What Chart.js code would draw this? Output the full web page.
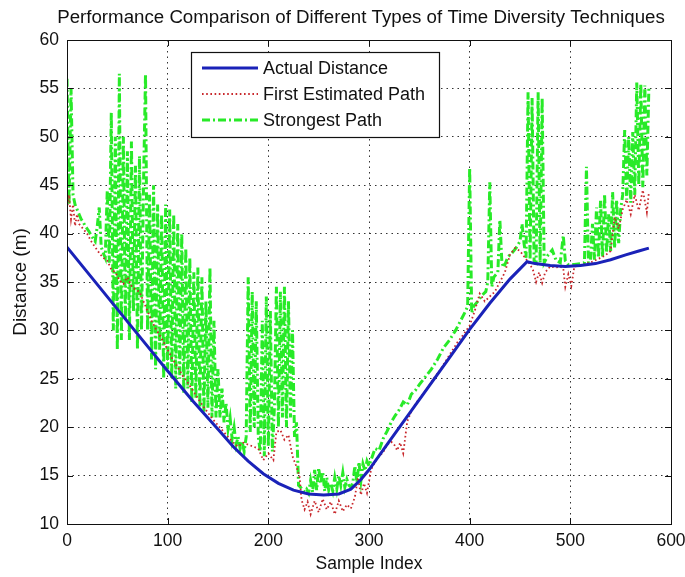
<!DOCTYPE html>
<html>
<head>
<meta charset="utf-8">
<title>Time Diversity Techniques</title>
<script src="https://cdn.jsdelivr.net/npm/chart.js@4/dist/chart.umd.min.js"></script>
<style>
  html, body { margin: 0; padding: 0; background: #fff; }
  canvas { display: block; }
</style>
</head>
<body>
<canvas id="chart" width="685" height="577"></canvas>
<script>
// sample index / distance (m) pairs for each trace
const actualDistance = [
  [0,38.6],[25,35.4],[50,32.2],[75,29.0],[100,25.8],[125,22.7],[150,19.8],[165,18.0],[180,16.5],
  [195,15.2],[210,14.2],[225,13.5],[240,13.1],[255,13.0],[270,13.1],[282,13.6],[292,14.6],[300,15.6],
  [320,18.5],[340,21.4],[360,24.3],[380,27.2],[400,30.1],[420,32.8],[440,35.3],[457,37.1],[465,36.9],
  [480,36.7],[495,36.6],[510,36.7],[525,36.9],[540,37.3],[555,37.8],[568,38.2],[578,38.5]
];

const firstPath = [
  [0,42.5],[2,44],[4,41.5],[6,43],[8,40.8],[10,42],[12,41],[16,40.5],[20,40],[24,39.2],[28,38.6],
  [32,38],[36,37.5],[40,37.2],[44,36.3],[48,36],[52,35.2],[56,34.8],[60,35.5],[64,34.6],[68,34.2],
  [72,34],[76,33],[80,32],[84,31],[88,30.2],[92,29.5],[96,28.8],[100,28],[105,27],[110,26.2],
  [115,25.3],[120,24.6],[125,23.8],[130,23],[135,22.2],[140,21.5],[145,20.8],[150,20.2],[155,19.6],
  [160,19],[165,18.4],[170,18],[175,18.4],[180,18.2],[185,18],[190,17.8],[195,16.6],[200,17.3],
  [205,16.6],[208,19.5],[212,19.7],[216,18.7],[220,19.2],[224,17],[228,15.9],[231,14.9],[233,12.5],
  [236,11.5],[239,12.3],[242,11],[246,12.4],[250,11.2],[254,12.6],[258,11.5],[262,12.3],[266,11],
  [270,12.4],[274,11.3],[278,12],[282,11.6],[286,12.8],[289,14.8],[292,13],[295,14.2],[298,13.2],
  [302,15.6],[306,16.4],[310,17],[314,17.4],[318,18.2],[322,18.5],[325,18.2],[328,17.6],[331,18.4],
  [334,17.3],[338,20.6],[342,21.6],[346,22.4],[352,23.2],[358,24],[364,25],[370,25.8],[376,26.8],
  [382,27.8],[388,28.8],[394,29.6],[400,30.5],[405,32],[410,33.8],[415,33],[420,33.5],[425,34],
  [430,35],[435,36],[440,37.8],[445,38.5],[450,38.2],[455,37.5],[460,36.8],[463,36.2],[466,35],
  [469,36],[472,34.9],[475,36],[480,36.6],[486,36.5],[490,36.6],[493,36.4],[495,34.5],[498,35.8],
  [501,34.6],[504,36.6],[510,36.7],[516,36.9],[522,37.1],[528,37.4],[534,37.7],[540,38.2],[544,41.7],
  [548,40.5],[552,42.5],[556,43.5],[560,42],[564,44],[568,42.4],[572,44.5],[576,42.2],[578,44.2]
];

const strongestPath = [
  [0,56],[2,43],[4,55],[6,44],[8,43],[10,42.5],[12,42],[14,41.5],[16,41.2],[18,40.8],[20,40.5],
  [22,40.2],[24,39.8],[26,39.5],[28,39.2],[30,40.7],[32,42.7],[34,38.6],[36,38],[38,37.5],
  [40,44.5],[42,37],[44,52.5],[46,30],[48,50],[50,28],[52,56.5],[54,29],[56,50],[58,31],[60,48.5],
  [62,29],[64,49.5],[66,32],[68,47],[70,28],[72,48],[74,30],[76,45],[78,56.5],[80,30],
  [82,44],[84,27],[86,45],[88,26],[90,43],[92,28],[94,42],[96,25],[98,43],[100,26],
  [102,42.5],[104,25],[106,42],[108,24],[110,41],[112,25],[114,40],[116,23.5],[118,38.5],[120,24],
  [122,37.5],[124,22.5],[126,36],[128,23],[130,36.5],[132,22],[134,35.5],[136,21.5],[138,33],[140,22],
  [142,36.5],[144,21],[146,31],[148,21],[150,26],[152,21],[154,24],[156,20.5],[158,22.5],[160,19.8],
  [162,21],[164,18.8],[166,20],[168,18.2],[170,19],[172,17.8],[174,18.5],[176,17.5],
  [178,19],[180,35.5],[182,19.5],[184,34],[186,20],[188,33],[190,19],[192,17.5],[194,31],[196,17],
  [198,33.5],[200,18],[202,32],[204,17.5],[206,22],[208,34.5],[210,20],[212,34],[214,21],[216,34.5],
  [218,20],[220,33],[222,21],[224,30],[226,19],[228,20.5],[230,14],[232,13.8],
  [234,13.5],[236,13.3],[238,13.6],[240,13.2],[242,14.5],[244,13.3],[246,15.6],[248,13.5],[250,15.8],
  [252,14.2],[254,15.4],[256,13.4],[258,14.8],[260,13.5],[262,14.2],[264,13.4],[266,14.8],[268,13.6],
  [270,15],[272,14],[274,15.3],[276,13.8],[278,14.6],[280,14],[282,13.8],[284,14.3],[286,16],
  [288,14.3],[290,16.4],[292,14.5],[294,16.2],[296,15.5],[298,16.5],[300,16],
  [302,16.6],[306,17.8],[310,17.6],[314,18.8],[318,19.6],[322,20.5],[326,21.2],[330,21.8],[334,22.6],
  [338,22.3],[342,23.4],[346,23.8],[350,24.4],[356,25.2],[362,26],[368,27],[374,28.2],[380,29],
  [386,30],[392,31.2],[396,32],
  [398,32.5],[400,46.8],[402,31.8],[404,32.5],[408,33],[412,33.6],[416,34],[418,35],[420,45.3],
  [422,34.5],[424,35.5],[428,36],[430,41.4],[432,37],[434,36.5],[438,37.6],[442,38],[446,38.5],
  [450,39.2],[452,41],[454,39],[456,37.5],[458,54.6],[460,37.3],[462,54],[464,37.2],[466,37],
  [468,54.6],[470,37],[472,54],[474,37],[478,37.8],[482,38.3],[486,37.2],[490,37],[493,39.8],
  [495,37.2],[498,36.8],[504,36.8],[510,36.9],[514,37],[516,46.9],[518,37],[520,37.2],[522,41],
  [524,37.3],[526,42.7],[528,37.5],[530,43.4],[532,37.6],[534,44.1],[536,38],[538,42],[540,38.2],
  [542,44.3],[544,38.5],[546,43.5],[548,39],[550,42.5],[552,44],[554,50.7],[556,43.5],[558,50],
  [560,43.2],[562,50.5],[564,44],[566,55.6],[568,45],[570,55.5],[572,44.8],[574,55.3],[576,46],[578,55]
];

const xTicks = [0, 100, 200, 300, 400, 500, 600];
const yTicks = [10, 15, 20, 25, 30, 35, 40, 45, 50, 55, 60];
const chartTitle = "Performance Comparison of Different Types of Time Diversity Techniques";

const FONT = "'Liberation Sans', Arial, Helvetica, sans-serif";
const toXY = (arr) => arr.map(([x, y]) => ({ x, y }));

// title over the axes, box round them, inward tick marks on all four sides, and the legend
const axesBox = {
  id: "axesBox",
  afterDraw(chart) {
    const { ctx, chartArea: a, scales } = chart;
    ctx.save();
    ctx.fillStyle = "#111";
    ctx.font = "18.7px " + FONT;
    ctx.textAlign = "center";
    ctx.textBaseline = "middle";
    ctx.fillText(chartTitle, (a.left + a.right) / 2 - 8, 18);
    ctx.textAlign = "left";

    ctx.strokeStyle = "#111";
    ctx.lineWidth = 1;
    ctx.setLineDash([]);
    ctx.strokeRect(a.left + 0.5, a.top + 0.5, a.right - a.left, a.bottom - a.top);
    const tl = 6;
    ctx.beginPath();
    xTicks.forEach((v) => {
      const px = Math.round(scales.x.getPixelForValue(v)) + 0.5;
      ctx.moveTo(px, a.bottom); ctx.lineTo(px, a.bottom - tl);
      ctx.moveTo(px, a.top); ctx.lineTo(px, a.top + tl);
    });
    yTicks.forEach((v) => {
      const py = Math.round(scales.y.getPixelForValue(v)) + 0.5;
      ctx.moveTo(a.left, py); ctx.lineTo(a.left + tl, py);
      ctx.moveTo(a.right, py); ctx.lineTo(a.right - tl, py);
    });
    ctx.stroke();

    // legend
    const bx = a.left + 124, by = a.top + 12, bw = 248, bh = 85;
    ctx.fillStyle = "#fff";
    ctx.fillRect(bx, by, bw, bh);
    ctx.strokeStyle = "#111";
    ctx.lineWidth = 1.2;
    ctx.strokeRect(bx + 0.5, by + 0.5, bw, bh);
    ctx.font = "18px " + FONT;
    chart.data.datasets.forEach((ds, i) => {
      const y = by + 16 + i * 26;
      ctx.strokeStyle = ds.borderColor;
      ctx.lineWidth = ds.borderWidth;
      ctx.setLineDash(ds.borderDash || []);
      ctx.beginPath();
      ctx.moveTo(bx + 11, y); ctx.lineTo(bx + 67, y);
      ctx.stroke();
      ctx.setLineDash([]);
      ctx.fillStyle = "#111";
      ctx.fillText(ds.label, bx + 72, y + 1);
    });
    ctx.restore();
  }
};

new Chart(document.getElementById("chart"), {
  type: "scatter",
  data: {
    datasets: [
      { label: "Actual Distance", data: toXY(actualDistance), showLine: true, borderColor: "#1a22b8", borderWidth: 3, pointRadius: 0, tension: 0 },
      { label: "First Estimated Path", data: toXY(firstPath), showLine: true, borderColor: "#c8282c", borderWidth: 1.8, borderDash: [1.6, 2.6], pointRadius: 0, tension: 0 },
      { label: "Strongest Path", data: toXY(strongestPath), showLine: true, borderColor: "#28ea28", borderWidth: 3, borderDash: [8, 3, 2, 3], pointRadius: 0, tension: 0 }
    ]
  },
  options: {
    responsive: false,
    animation: false,
    devicePixelRatio: 1,
    layout: { padding: { left: 0, right: 14, top: 40, bottom: 0 } },
    plugins: {
      legend: { display: false },
      tooltip: { enabled: false },
      title: { display: false }
    },
    scales: {
      x: {
        type: "linear", min: 0, max: 600,
        afterBuildTicks: (s) => { s.ticks = xTicks.map((v) => ({ value: v })); },
        afterFit: (s) => { s.height = 53; s.paddingLeft = 0; s.paddingRight = 0; },
        ticks: { color: "#111", font: { family: FONT, size: 17.5 }, padding: 7 },
        grid: { color: "#333", lineWidth: 1, drawTicks: false },
        border: { display: false, dash: [1.5, 4] },
        title: { display: true, text: "Sample Index", color: "#111", font: { family: FONT, size: 17.5 }, padding: { top: 0, bottom: 2 } }
      },
      y: {
        type: "linear", min: 10, max: 60,
        afterBuildTicks: (s) => { s.ticks = yTicks.map((v) => ({ value: v })); },
        afterFit: (s) => { s.width = 67; s.paddingTop = 0; },
        ticks: { color: "#111", font: { family: FONT, size: 17.5 }, padding: 8 },
        grid: { color: "#333", lineWidth: 1, drawTicks: false },
        border: { display: false, dash: [1.5, 4] },
        title: { display: true, text: "Distance (m)", color: "#111", font: { family: FONT, size: 19 }, padding: { top: 9, bottom: 0 } }
      }
    }
  },
  plugins: [axesBox]
});
</script>
</body>
</html>
